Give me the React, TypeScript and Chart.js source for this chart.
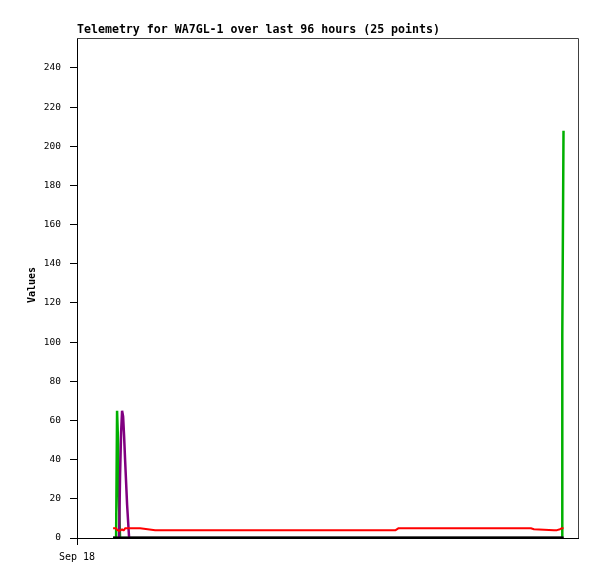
import React, { useEffect, useRef } from "react";
import { Chart, registerables } from "chart.js";

Chart.register(...registerables);

const TITLE = "Telemetry for WA7GL-1 over last 96 hours (25 points)";
const Y_TITLE = "Values";
const X_TICK_LABEL = "Sep 18";

// hours since Sep 18 00:00
const times = [
  7.7, 8.34, 8.55, 8.77, 8.98, 9.19, 9.41, 9.62, 9.84, 10.05, 10.26, 10.69, 11.12,
  13.47, 16.68, 67.99, 68.63, 96.85, 97.5, 101.78, 102.42, 103.06, 103.49, 103.55, 103.81,
];
const redValues = [5, 5, 4, 4, 3.5, 4, 4, 4.5, 4, 4, 5, 5, 5, 5, 4, 4, 5, 5, 4.5, 4, 4, 4.5, 5, 5, 5];
const greenValues = [0, 0, 65, 48, 16, 0, 0, 0, 0, 0, 0, 0, 0, 0, 0, 0, 0, 0, 0, 0, 0, 0, 0, 104, 208];
const purpleValues = [0, 0, 0, 0, 0, 32, 54, 65, 62, 52, 40, 17, 0, 0, 0, 0, 0, 0, 0, 0, 0, 0, 0, 0, 0];
const blackValues = [0, 0, 0, 0, 0, 0, 0, 0, 0, 0, 0, 0, 0, 0, 0, 0, 0, 0, 0, 0, 0, 0, 0, 0, 0];

const yTicks = [0, 20, 40, 60, 80, 100, 120, 140, 160, 180, 200, 220, 240];
const X_MIN = 0;
const X_MAX = 106.9;
const Y_MAX = 255.3;

const pts = (vals: number[]) => vals.map((v, i) => ({ x: times[i], y: v }));

export default function App() {
  const ref = useRef<HTMLCanvasElement | null>(null);
  useEffect(() => {
    if (!ref.current) return;
    const framePlugin = {
      id: "frame",
      afterDraw(chart: any) {
        const { ctx, chartArea: a } = chart;
        ctx.save();
        ctx.strokeStyle = "#404040";
        ctx.lineWidth = 1;
        ctx.beginPath();
        ctx.moveTo(a.left, a.top + 0.5);
        ctx.lineTo(a.right + 0.5, a.top + 0.5);
        ctx.lineTo(a.right + 0.5, a.bottom);
        ctx.stroke();
        ctx.fillStyle = "#000";
        ctx.font = "bold 11.6px 'DejaVu Sans Mono'";
        ctx.textAlign = "left";
        ctx.textBaseline = "middle";
        ctx.fillText(TITLE, 77, 30);
        ctx.translate(32, 285);
        ctx.rotate(-Math.PI / 2);
        ctx.textAlign = "center";
        ctx.font = "bold 10px 'DejaVu Sans Mono'";
        ctx.fillText(Y_TITLE, 0, 0);
        ctx.restore();
      },
    };
    const common = { borderWidth: 2, pointRadius: 0, tension: 0, fill: false, borderJoinStyle: "bevel" };
    const chart = new Chart(ref.current, {
      type: "line",
      data: {
        datasets: [
          { ...common, label: "black", data: pts(blackValues), borderColor: "#000000", borderWidth: 3 },
          { ...common, label: "red", data: pts(redValues), borderColor: "#ff0000" },
          { ...common, label: "purple", data: pts(purpleValues), borderColor: "#800080", borderWidth: 2.5 },
          { ...common, label: "green", data: pts(greenValues), borderColor: "#00b000", borderWidth: 2.5 },
        ],
      },
      options: {
        animation: false,
        responsive: false,
        layout: { padding: { top: 38, right: 19, left: 0, bottom: 0 } },
        plugins: { legend: { display: false }, tooltip: { enabled: false }, title: { display: false } },
        scales: {
          x: {
            type: "linear",
            min: X_MIN,
            max: X_MAX,
            afterBuildTicks: (s: any) => {
              s.ticks = [{ value: X_MIN }];
            },
            afterFit: (s: any) => {
              s.height = 41;
            },
            ticks: {
              callback: () => X_TICK_LABEL,
              color: "#000",
              font: { family: "'DejaVu Sans Mono'", size: 10 },
              padding: 6,
              maxRotation: 0,
              autoSkip: false,
            },
            grid: { drawOnChartArea: false, tickLength: 7, color: "#000" },
            border: { color: "#000", width: 1 },
          },
          y: {
            type: "linear",
            min: 0,
            max: Y_MAX,
            afterBuildTicks: (s: any) => {
              s.ticks = yTicks.map((v) => ({ value: v }));
            },
            afterFit: (s: any) => {
              s.width = 77;
            },
            ticks: {
              color: "#000",
              font: { family: "'DejaVu Sans Mono'", size: 9.5 },
              padding: 9,
            },
            grid: { drawOnChartArea: false, tickLength: 7, color: "#000" },
            border: { color: "#000", width: 1 },
          },
        },
      },
      plugins: [framePlugin],
    } as any);
    return () => chart.destroy();
  }, []);
  return (
    <div style={{ position: "fixed", left: 0, top: 0, width: 597, height: 579, background: "#fff" }}>
      <canvas ref={ref} width={597} height={579} style={{ width: 597, height: 579 }} />
    </div>
  );
}
